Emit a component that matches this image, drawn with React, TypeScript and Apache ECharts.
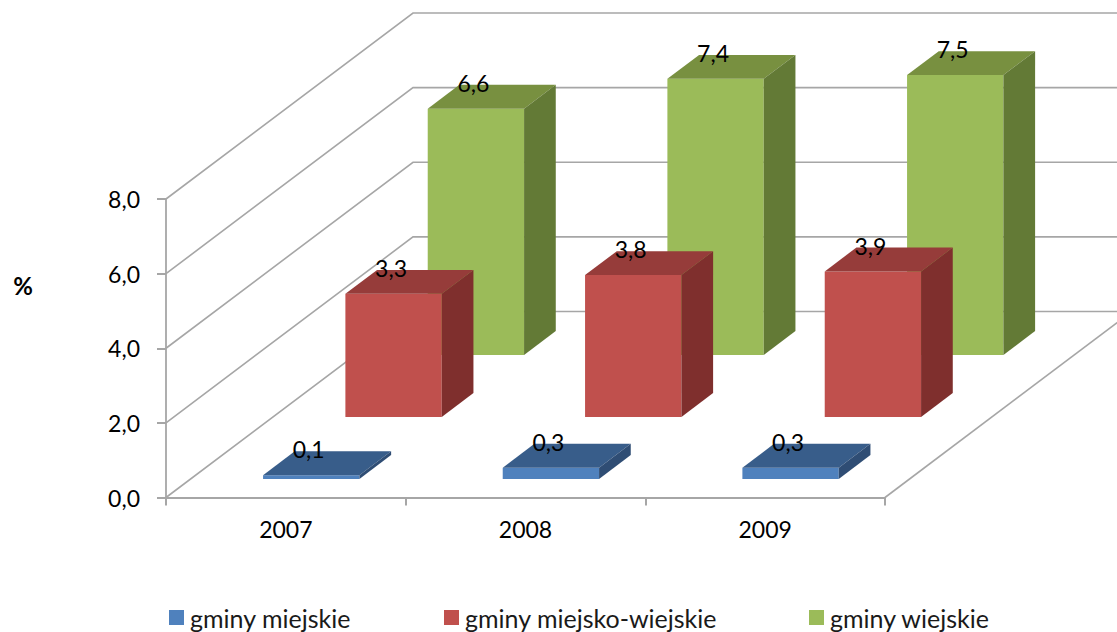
import React, { useEffect, useRef } from "react";
import * as echarts from "echarts";

const years = ["2007", "2008", "2009"];
const gminyMiejskie = [0.1, 0.3, 0.3];
const gminyMiejskoWiejskie = [3.3, 3.8, 3.9];
const gminyWiejskie = [6.6, 7.4, 7.5];
const valueTicks = [0, 2, 4, 6, 8];

const FONT = "Lato";
const GRID_COLOR = "#a6a6a6";

// Oblique projection: how far the back wall sits from the front plane.
const WALL_DX = 247;
const WALL_DY = -186;
const ROW_COUNT = 3;
const ROW_GAP = 0.3; // share of a row in front of its bar
const ROW_BAR = 0.385; // share of a row taken by the bar's depth
const BAR_SHARE = 0.402;
const BAR_NUDGE = 0.7;

const decimal = (v: number) => v.toFixed(1).replace(".", ",");

function barRenderer(row: number, front: string, top: string, side: string) {
  return (params: any, api: any) => {
    const cat = api.value(0);
    const val = api.value(1);
    const [cx, topY] = api.coord([cat, val]);
    const [, baseY] = api.coord([cat, 0]);
    const half = (api.size([1, 0])[0] * BAR_SHARE) / 2;

    const rowDepth = row + ROW_GAP;
    const ox = (rowDepth * WALL_DX) / ROW_COUNT + BAR_NUDGE;
    const oy = (rowDepth * WALL_DY) / ROW_COUNT;
    const dx = (ROW_BAR * WALL_DX) / ROW_COUNT;
    const dy = (ROW_BAR * WALL_DY) / ROW_COUNT;

    const l = cx - half + ox;
    const r = cx + half + ox;
    const t = topY + oy;
    const b = baseY + oy;

    return {
      type: "group",
      children: [
        {
          type: "polygon",
          shape: { points: [[l, t], [r, t], [r, b], [l, b]] },
          style: { fill: front },
        },
        {
          type: "polygon",
          shape: { points: [[l, t], [r, t], [r + dx, t + dy], [l + dx, t + dy]] },
          style: { fill: top },
        },
        {
          type: "polygon",
          shape: { points: [[r, t], [r + dx, t + dy], [r + dx, b + dy], [r, b]] },
          style: { fill: side },
        },
        {
          type: "text",
          z2: 10,
          style: {
            text: decimal(val),
            x: (l + r) / 2 - 2.5,
            y: t + dy - 2,
            align: "center",
            verticalAlign: "middle",
            fontFamily: FONT,
            fontSize: 23,
            fill: "#000000",
          },
        },
      ],
    };
  };
}

// Side wall and back wall rules for one value tick, plus the floor's right edge.
function wallRenderer(params: any, api: any) {
  const val = api.value(0);
  const sys = params.coordSys;
  const y = api.coord([0, val])[1];
  const left = sys.x;
  const right = sys.x + sys.width;
  const style = { stroke: GRID_COLOR, lineWidth: 1.6, fill: "none" };
  const children: any[] = [
    {
      type: "polyline",
      shape: {
        points: [
          [left, y],
          [left + WALL_DX, y + WALL_DY],
          [right + WALL_DX, y + WALL_DY],
        ],
      },
      style,
    },
  ];
  if (val === 0) {
    children.push({
      type: "line",
      shape: { x1: right, y1: y, x2: right + WALL_DX, y2: y + WALL_DY },
      style,
    });
  }
  return { type: "group", children };
}

function legendEntry(name: string, left: number) {
  return {
    data: [name],
    left,
    top: 605,
    icon: "rect",
    itemWidth: 15,
    itemHeight: 15,
    itemGap: 6,
    selectedMode: false,
    padding: 0,
    textStyle: { fontFamily: FONT, fontSize: 25, color: "#1a1a1a", padding: [0, 0, 0, 1] },
  };
}

export default function App() {
  const ref = useRef<HTMLDivElement>(null);

  useEffect(() => {
    const chart = echarts.init(ref.current, undefined, { renderer: "svg" });
    const toData = (values: number[]) => values.map((v, i) => [i, v]);
    const axisLine = { lineStyle: { color: GRID_COLOR, width: 1.8 } };

    chart.setOption({
      animation: false,
      backgroundColor: "#ffffff",
      grid: { left: 166, top: 199, width: 719, height: 298.5 },
      xAxis: {
        type: "category",
        data: years,
        axisLine,
        axisTick: { show: true, length: 8, lineStyle: { color: GRID_COLOR, width: 2 } },
        axisLabel: { fontFamily: FONT, fontSize: 23, color: "#000000", margin: 20 },
        splitLine: { show: false },
      },
      yAxis: {
        type: "value",
        min: 0,
        max: 8,
        interval: 2,
        axisLine: { show: true, ...axisLine },
        axisTick: { show: true, length: 9, lineStyle: { color: GRID_COLOR, width: 2 } },
        axisLabel: {
          fontFamily: FONT,
          fontSize: 23,
          color: "#000000",
          margin: 26,
          formatter: (v: number) => decimal(v),
        },
        splitLine: { show: false },
      },
      legend: [
        legendEntry("gminy miejskie", 169),
        legendEntry("gminy miejsko-wiejskie", 444),
        legendEntry("gminy wiejskie", 809),
      ],
      graphic: [
        {
          type: "text",
          x: 23,
          y: 285,
          style: {
            text: "%",
            align: "center",
            verticalAlign: "middle",
            fontFamily: FONT,
            fontWeight: "bold",
            fontSize: 24,
            fill: "#000000",
          },
        },
      ],
      series: [
        {
          name: "siatka",
          type: "custom",
          z: 1,
          silent: true,
          encode: { y: 0 },
          data: valueTicks.map((v) => [v]),
          renderItem: wallRenderer,
        },
        {
          name: "gminy wiejskie",
          type: "custom",
          z: 2,
          itemStyle: { color: "#9bbb59" },
          encode: { x: 0, y: 1 },
          data: toData(gminyWiejskie),
          renderItem: barRenderer(2, "#9bbb59", "#789040", "#637a36"),
        },
        {
          name: "gminy miejsko-wiejskie",
          type: "custom",
          z: 3,
          itemStyle: { color: "#c0504d" },
          encode: { x: 0, y: 1 },
          data: toData(gminyMiejskoWiejskie),
          renderItem: barRenderer(1, "#c0504d", "#963c3a", "#7f2f2d"),
        },
        {
          name: "gminy miejskie",
          type: "custom",
          z: 4,
          itemStyle: { color: "#4f81bd" },
          encode: { x: 0, y: 1 },
          data: toData(gminyMiejskie),
          renderItem: barRenderer(0, "#4f81bd", "#385d8a", "#2f4d74"),
        },
      ],
    });

    return () => chart.dispose();
  }, []);

  return (
    <div
      ref={ref}
      style={{ position: "fixed", left: 0, top: 0, width: 1117, height: 632 }}
    />
  );
}
